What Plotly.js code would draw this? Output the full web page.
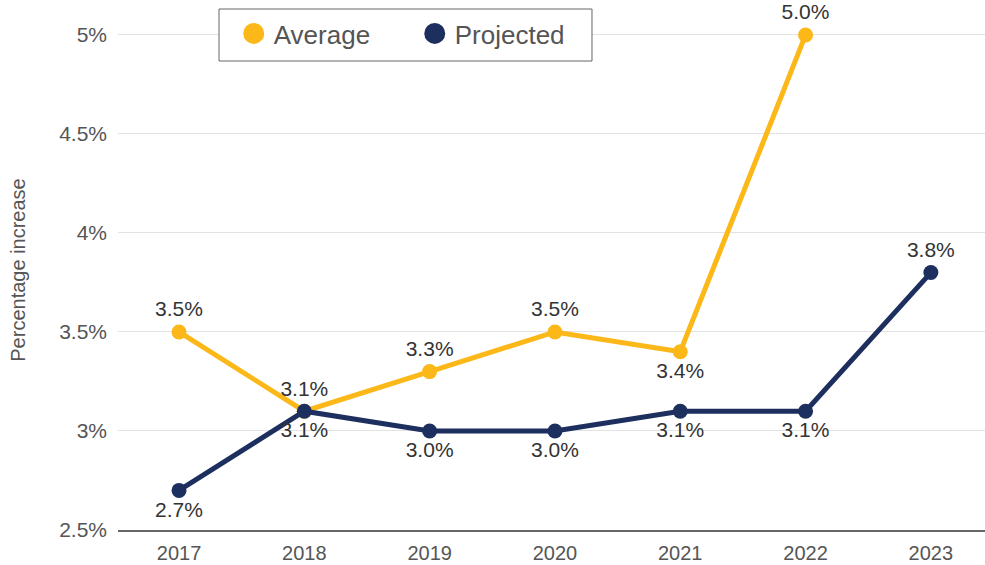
<!DOCTYPE html>
<html>
<head>
<meta charset="utf-8">
<script src="https://cdn.plot.ly/plotly-3.0.1.min.js"></script>
<style>html,body{margin:0;padding:0;background:#fff;}#chart{width:985px;height:565px;}</style>
</head>
<body>
<div id="chart"></div>
<script>
const years = ["2017", "2018", "2019", "2020", "2021", "2022", "2023"];
const averageValues = [3.5, 3.1, 3.3, 3.5, 3.4, 5.0, null];
const projectedValues = [2.7, 3.1, 3.0, 3.0, 3.1, 3.1, 3.8];
const averagePositions = ["top center", "top center", "top center", "top center", "bottom center", "top center", "top center"];
const projectedPositions = ["bottom center", "bottom center", "bottom center", "bottom center", "bottom center", "bottom center", "top center"];
const yTickValues = [2.5, 3, 3.5, 4, 4.5, 5];
const yTickLabels = ["2.5%", "3%", "3.5%", "4%", "4.5%", "5%"];

const yellow = "#fbb818";
const navy = "#1d2f5e";
const fontFam = "'Liberation Sans', Arial, sans-serif";

const fmt = v => v == null ? "" : v.toFixed(1) + "%";

const traces = [
  {
    x: years, y: averageValues, name: "Average", type: "scatter", mode: "lines+markers+text",
    line: {color: yellow, width: 5}, marker: {color: yellow, size: 15},
    text: averageValues.map(fmt), textposition: averagePositions,
    textfont: {size: 21, color: "#333333", family: fontFam},
    cliponaxis: false, showlegend: false, hoverinfo: "skip"
  },
  {
    x: years, y: projectedValues, name: "Projected", type: "scatter", mode: "lines+markers+text",
    line: {color: navy, width: 5}, marker: {color: navy, size: 15},
    text: projectedValues.map(fmt), textposition: projectedPositions,
    textfont: {size: 21, color: "#333333", family: fontFam},
    cliponaxis: false, showlegend: false, hoverinfo: "skip"
  },
  {
    x: [null], y: [null], name: "Average", type: "scatter", mode: "markers",
    marker: {color: yellow, size: 16, line: {color: yellow, width: 5}}, showlegend: true
  },
  {
    x: [null], y: [null], name: "Projected", type: "scatter", mode: "markers",
    marker: {color: navy, size: 16, line: {color: navy, width: 5}}, showlegend: true
  }
];

const layout = {
  width: 985, height: 565,
  margin: {l: 118, r: 0, t: 10, b: 35},
  paper_bgcolor: "#ffffff", plot_bgcolor: "#ffffff",
  font: {family: fontFam, color: "#555555"},
  xaxis: {
    type: "category", range: [-0.487, 6.432],
    showgrid: false, zeroline: false,
    showline: true, linecolor: "#666666", linewidth: 2,
    ticks: "", ticklabelstandoff: 4, tickfont: {size: 20, color: "#555555"}
  },
  yaxis: {
    range: [2.5, 5.126], tickvals: yTickValues, ticktext: yTickLabels,
    showgrid: true, gridcolor: "#e2e2e2", gridwidth: 1, zeroline: false,
    showline: false, ticks: "", ticklabelstandoff: 10,
    tickfont: {size: 21, color: "#555555"},
    title: {text: "Percentage increase", font: {size: 20, color: "#555555"}, standoff: 28}
  },
  shapes: [
    {type: "rect", xref: "paper", yref: "paper", x0: 0.1165, x1: 0.5467, y0: 0.9019, y1: 1.0019,
     line: {color: "#666666", width: 1}, fillcolor: "#ffffff", layer: "above"}
  ],
  legend: {
    orientation: "h", x: 0.1335, xanchor: "left", y: 1.0, yanchor: "top",
    borderwidth: 0, bgcolor: "rgba(0,0,0,0)",
    font: {size: 26, color: "#555555"}, entrywidth: 136, itemclick: false
  },
  showlegend: true,
  hovermode: false
};

Plotly.newPlot("chart", traces, layout, {displayModeBar: false, staticPlot: true});
</script>
</body>
</html>
